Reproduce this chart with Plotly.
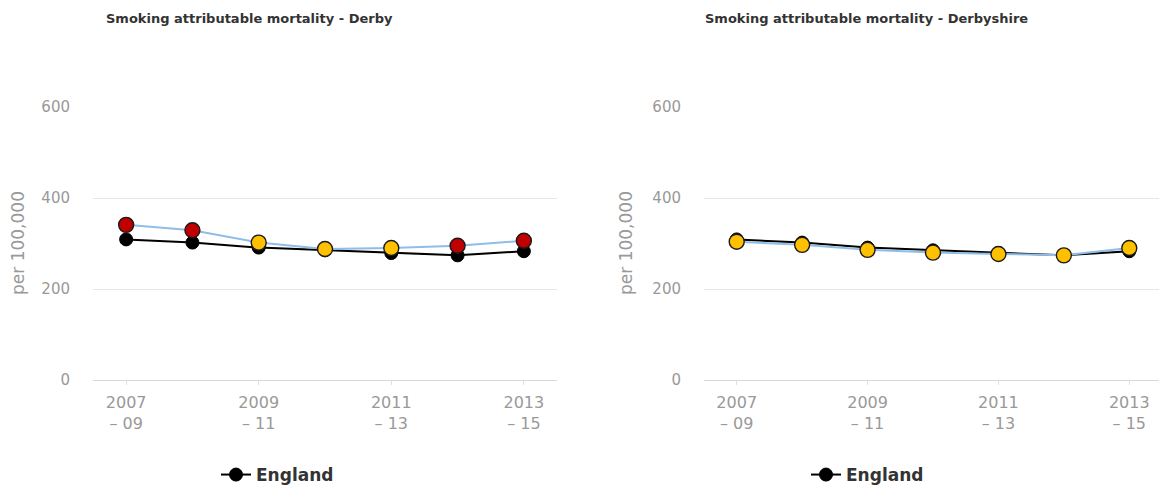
import plotly.graph_objects as go

periods = ["2007 - 09", "2008 - 10", "2009 - 11", "2010 - 12",
           "2011 - 13", "2012 - 14", "2013 - 15"]
tick_periods = ["2007 - 09", "2009 - 11", "2011 - 13", "2013 - 15"]
tick_text = ["2007<br>– 09", "2009<br>– 11", "2011<br>– 13", "2013<br>– 15"]

england = [309, 302, 291, 285, 279, 274, 283]
derby = [341, 329, 302, 288, 290, 295, 306]
derby_rag = ["red", "red", "amber", "amber", "amber", "red", "red"]
derbyshire = [304, 297, 286, 280, 277, 274, 290]
derbyshire_rag = ["amber"] * 7

RAG = {"red": "#C00000", "amber": "#FFC000"}
GRID = "#e6e6e6"
TICK = "#999999"
FONT = "DejaVu Sans"
W, H = 1167, 487
OFF = 8  # page body margin shifts the figure by this much


def px_x(p):
    return (p - OFF) / W


def px_y(p):
    return 1 - (p - OFF) / H


fig = go.Figure()

panels = [
    ("x", "y", derby, derby_rag, "legend", "Derby"),
    ("x2", "y2", derbyshire, derbyshire_rag, "legend2", "Derbyshire"),
]
for xa, ya, vals, rag, leg, name in panels:
    fig.add_trace(go.Scatter(
        x=periods, y=england, xaxis=xa, yaxis=ya, name="England",
        mode="lines+markers", legend=leg,
        line=dict(color="black", width=2),
        marker=dict(size=13, color="black", line=dict(color="black", width=1)),
    ))
    fig.add_trace(go.Scatter(
        x=periods, y=vals, xaxis=xa, yaxis=ya, name=name, showlegend=False,
        mode="lines+markers",
        line=dict(color="#8fbde8", width=2),
        marker=dict(size=15, color=[RAG[r] for r in rag],
                    line=dict(color="#1a1a1a", width=1.4)),
    ))

xcommon = dict(
    type="category", tickmode="array", tickvals=tick_periods, ticktext=tick_text,
    showgrid=False, showline=True, linecolor="#d8d8d8", linewidth=1,
    ticks="outside", ticklen=4, tickcolor="#e0e0e0",
    tickfont=dict(family=FONT, size=16, color=TICK), ticklabelstandoff=4,
    automargin=False, fixedrange=True,
)
ycommon = dict(
    range=[0, 600], tickvals=[0, 200, 400, 600], showgrid=True, gridcolor=GRID,
    zeroline=False, showline=False,
    tickfont=dict(family=FONT, size=15, color=TICK), ticklabelstandoff=22,
    automargin=False,
)

legend_style = dict(y=px_y(475), yanchor="middle", xanchor="left",
                    bgcolor="rgba(0,0,0,0)",
                    font=dict(family=FONT, size=17, color="#333", weight="bold"))

annotations = [
    dict(text="<b>Smoking attributable mortality - Derby</b>",
         x=px_x(249), y=px_y(19)),
    dict(text="<b>Smoking attributable mortality - Derbyshire</b>",
         x=px_x(866), y=px_y(19)),
]
for a in annotations:
    a.update(xref="paper", yref="paper", showarrow=False,
             xanchor="center", yanchor="middle",
             font=dict(family=FONT, size=13, color="#333"))
for cx in (18, 626):
    annotations.append(dict(
        text="per 100,000", x=px_x(cx), y=px_y(243), xref="paper", yref="paper",
        showarrow=False, textangle=-90, xanchor="center", yanchor="middle",
        font=dict(family=FONT, size=17, color=TICK)))

fig.update_layout(
    width=W, height=H, plot_bgcolor="white", paper_bgcolor="white",
    margin=dict(l=0, r=0, t=0, b=0),
    xaxis=dict(domain=[px_x(93), px_x(557)], range=[-0.5, 6.5], anchor="y", **xcommon),
    xaxis2=dict(domain=[px_x(704), px_x(1162)], range=[-0.5, 6.5], anchor="y2", **xcommon),
    yaxis=dict(domain=[px_y(380), px_y(107)], anchor="x", **ycommon),
    yaxis2=dict(domain=[px_y(380), px_y(107)], anchor="x2", **ycommon),
    legend=dict(x=px_x(216), **legend_style),
    legend2=dict(x=px_x(806), **legend_style),
    showlegend=True,
    annotations=annotations,
)

fig.write_html("out.html")
